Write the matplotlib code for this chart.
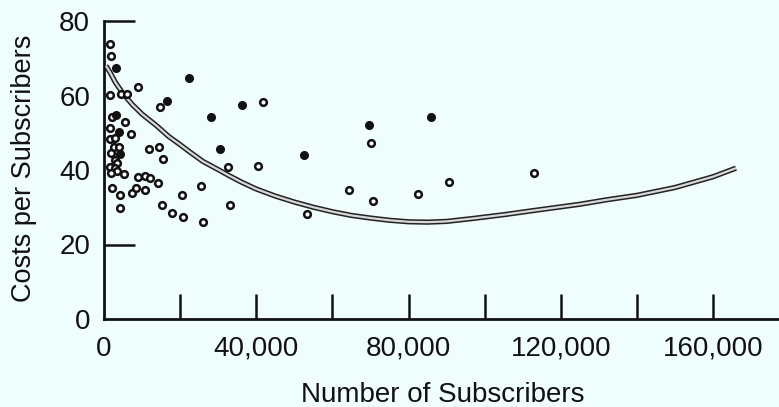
import matplotlib.pyplot as plt

# subscribers in thousands, cost per subscriber
open_x = [1.6, 1.8, 8.8, 1.6, 4.4, 6.1, 2.1, 5.5, 1.6, 7.0, 1.6, 2.9, 2.5, 3.9,
          1.8, 2.9, 3.3, 1.6, 2.9, 3.3, 5.3, 1.8, 8.8, 10.9, 12.1, 14.3, 2.0,
          4.2, 7.3, 8.4, 10.8, 4.2, 11.8, 14.5, 15.4, 15.2, 14.7, 17.9, 20.4,
          20.7, 25.5, 25.9, 32.5, 33.0, 40.5, 41.8, 53.3, 64.4, 70.2, 70.6,
          82.4, 90.6, 113.0]
open_y = [73.7, 70.6, 62.4, 60.1, 60.3, 60.3, 54.3, 52.8, 51.2, 49.6, 48.3, 48.7,
          46.3, 46.3, 44.5, 42.7, 41.8, 40.9, 40.5, 39.6, 38.9, 39.2, 38.2, 38.5,
          37.8, 36.6, 35.1, 33.3, 33.9, 35.1, 34.6, 29.7, 45.6, 46.3, 42.9, 30.6,
          56.8, 28.4, 33.3, 27.5, 35.8, 26.1, 40.8, 30.6, 41.2, 58.2, 28.2, 34.5,
          47.2, 31.8, 33.6, 36.9, 39.2]

filled_x = [3.1, 3.1, 3.9, 4.2, 16.5, 22.2, 28.1, 30.6, 36.2, 52.5, 69.5, 85.9]
filled_y = [67.4, 54.8, 50.3, 44.3, 58.4, 64.7, 54.2, 45.7, 57.4, 44.0, 52.1, 54.2]

# fitted curve
curve_x = [0.5, 1.6, 3, 5, 7.5, 10, 13.8, 17, 20, 22.6, 26, 30, 33, 36, 40, 45,
           50, 55, 60, 65, 70, 75, 80, 85, 90, 97, 105, 112.7, 125, 132, 140,
           150, 160, 166]
curve_y = [68.0, 66.2, 63.5, 60.5, 57.5, 55.0, 51.9, 49.0, 46.8, 44.8, 42.3, 40.1,
           38.4, 36.8, 34.9, 33.0, 31.4, 30.0, 28.8, 27.8, 27.1, 26.5, 26.1, 26.0,
           26.2, 27.0, 28.0, 29.1, 30.8, 32.0, 33.2, 35.3, 38.2, 40.5]

x_ticks = [0, 20, 40, 60, 80, 100, 120, 140, 160]
x_labels = ["0", "", "40,000", "", "80,000", "", "120,000", "", "160,000"]
y_ticks = [0, 20, 40, 60, 80]

bg = "#f0fdfd"
plt.rcParams["font.family"] = ["Liberation Sans", "DejaVu Sans"]

fig = plt.figure(figsize=(7.79, 4.07), dpi=100, facecolor=bg)
ax = fig.add_axes([104 / 779, 88 / 407, 675 / 779, 298 / 407])
ax.set_facecolor(bg)

ax.plot(curve_x, curve_y, color="#222222", lw=3.8, solid_capstyle="butt",
        solid_joinstyle="round", zorder=2)
ax.plot(curve_x, curve_y, color="#d8d8d8", lw=1.6, solid_capstyle="butt",
        solid_joinstyle="round", zorder=3)

ax.plot(open_x, open_y, "o", ms=4.8, mfc="white", mec="#111111", mew=1.8, zorder=4)
ax.plot(filled_x, filled_y, "o", ms=5.5, mfc="#111111", mec="#111111", zorder=4)

ax.set_xlim(0, 177.3)
ax.set_ylim(0, 80)
for side in ["top", "right"]:
    ax.spines[side].set_visible(False)
for side in ["left", "bottom"]:
    ax.spines[side].set_linewidth(2)
    ax.spines[side].set_color("#111111")

ax.set_xticks(x_ticks)
ax.set_xticklabels(x_labels)
ax.set_yticks(y_ticks)
ax.tick_params(axis="x", direction="in", length=18, width=1.8, pad=12,
               labelsize=20, colors="#111111")
ax.tick_params(axis="y", direction="in", length=22, width=1.8, pad=10,
               labelsize=20, colors="#111111")
ax.xaxis.get_major_ticks()[0].tick1line.set_visible(False)
for i in [0, 2, 3]:
    ax.yaxis.get_major_ticks()[i].tick1line.set_visible(False)

fig.text(24 / 779, 1 - 168 / 407, "Costs per Subscribers", rotation=90,
         ha="center", va="center", fontsize=19.5, color="#111111")
fig.text(443 / 779, 1 - 402 / 407, "Number of Subscribers", ha="center",
         va="baseline", fontsize=20, color="#111111")

fig.savefig("out.png", dpi=100, facecolor=bg)
